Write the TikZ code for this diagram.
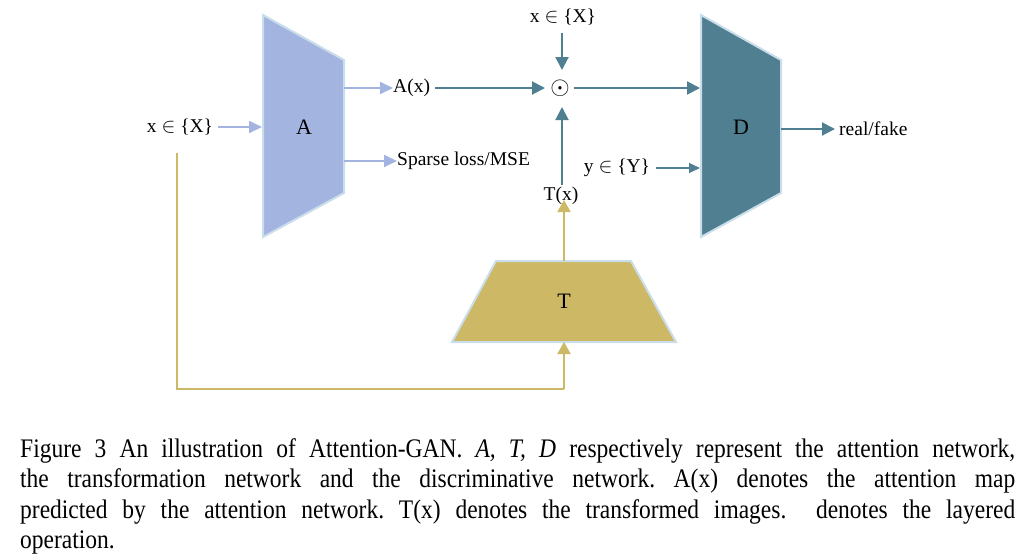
\documentclass[tikz,border=0pt]{standalone}
\usepackage{fontspec}
\setmainfont{Liberation Serif}
\usetikzlibrary{arrows.meta}
\definecolor{afill}{HTML}{A3B4E1}
\definecolor{dfill}{HTML}{4F7F90}
\definecolor{tfill}{HTML}{CDB865}
\definecolor{edge}{HTML}{C9DDEA}
\tikzset{
  lbl/.style={inner sep=0pt, font=\fontsize{19.5}{22}\selectfont},
  big/.style={inner sep=0pt, font=\fontsize{22}{26}\selectfont},
  blue arrow/.style={draw=afill, line width=2pt, -{Triangle[length=13pt,width=12pt]}},
  teal arrow/.style={draw=dfill, line width=2pt, -{Triangle[length=13pt,width=13pt]}},
  thin arrow/.style={draw=dfill, line width=1.3pt, -{Triangle[length=11pt,width=10pt]}},
  gold arrow/.style={draw=tfill, line width=2pt, -{Triangle[length=12pt,width=13pt]}},
  net/.style={line width=2pt, draw=edge},
}
\begin{document}
\begin{tikzpicture}[x=1pt,y=-1pt]
\useasboundingbox (0,0) rectangle (1028,558);
% networks
\filldraw[net, fill=afill] (263,15) -- (344,60) -- (344,193) -- (263,237) -- cycle;
\filldraw[net, fill=dfill] (701,15) -- (781,60) -- (781,193) -- (701,237) -- cycle;
\filldraw[net, fill=tfill] (496,261) -- (631,261) -- (676,342) -- (452,342) -- cycle;
\node[big] (A) at (304,127) {A};
\node[big] (D) at (741,127) {D};
\node[big] (T) at (564,301) {T};
% coordinates on shapes
\coordinate (Ain) at (262,127);
\coordinate (Aout1) at (344,88);
\coordinate (Aout2) at (344,161);
\coordinate (Din1) at (700,88);
\coordinate (Din2) at (700,168);
\coordinate (Dout) at (781,129);
\coordinate (Ttop) at (564,261);
\coordinate (Tbot) at (564,342);
\coordinate (corner1) at (177,389);
\coordinate (corner2) at (564,389);
% coordinates round the layered operation
\coordinate (otop) at (562,70);
\coordinate (obot) at (562,107);
\coordinate (oleft) at (545,88);
\coordinate (oright) at (574,88);
% labels
\node[lbl] (xin) at (180,127) {x $\in$ \{X\}};
\node[lbl] (xtop) at (563,17) {x $\in$ \{X\}};
\node[lbl, anchor=west] (Ax) at (393,88) {A(x)};
\node[lbl, anchor=west] (sparse) at (397,161) {Sparse loss/MSE};
\node[inner sep=0pt, font=\fontsize{31}{34}\selectfont] (odot) at (560,88) {$\odot$};
\node[lbl] (Tx) at (561,196) {T(x)};
\node[lbl] (y) at (617,168) {y $\in$ \{Y\}};
\node[lbl, anchor=west] (rf) at (839,129) {real/fake};
% connectors
\draw[blue arrow] (xin.east) ++(5,0) -- (Ain);
\draw[blue arrow] (Aout1) -- (Ax.west);
\draw[blue arrow] (Aout2) -- (sparse.west);
\draw[teal arrow] (Ax.east |- oleft) ++(5,0) -- (oleft);
\draw[teal arrow] (xtop.south -| otop) ++(0,8) -- (otop);
\draw[teal arrow] (oright) -- (Din1);
\draw[teal arrow] (Tx.north -| obot) ++(0,-2) -- (obot);
\draw[thin arrow] (y.east) ++(6,0) -- (Din2);
\draw[teal arrow] (Dout) -- ([xshift=-4pt]rf.west);
\draw[gold arrow] (Ttop) -- ([yshift=5pt]Tx.south -| Ttop);
\draw[draw=tfill, line width=2pt] (xin.south -| corner1) ++(0,18) -- (corner1) -- (corner2);
\draw[gold arrow] (corner2) -- (Tbot);
% caption
\node[inner sep=0pt, anchor=base west] (cap) at (20,457)
{\scalebox{1}[1.14]{\parbox[t]{995pt}{\fontsize{23.5}{26.8}\selectfont\frenchspacing
Figure 3 An illustration of Attention-GAN. \textit{A, T, D} respectively represent the attention network,\linebreak
the transformation network and the discriminative network. A(x) denotes the attention map\linebreak
predicted by the attention network. T(x) denotes the transformed images.\ \ denotes the layered\linebreak
operation.}}};
\end{tikzpicture}
\end{document}
